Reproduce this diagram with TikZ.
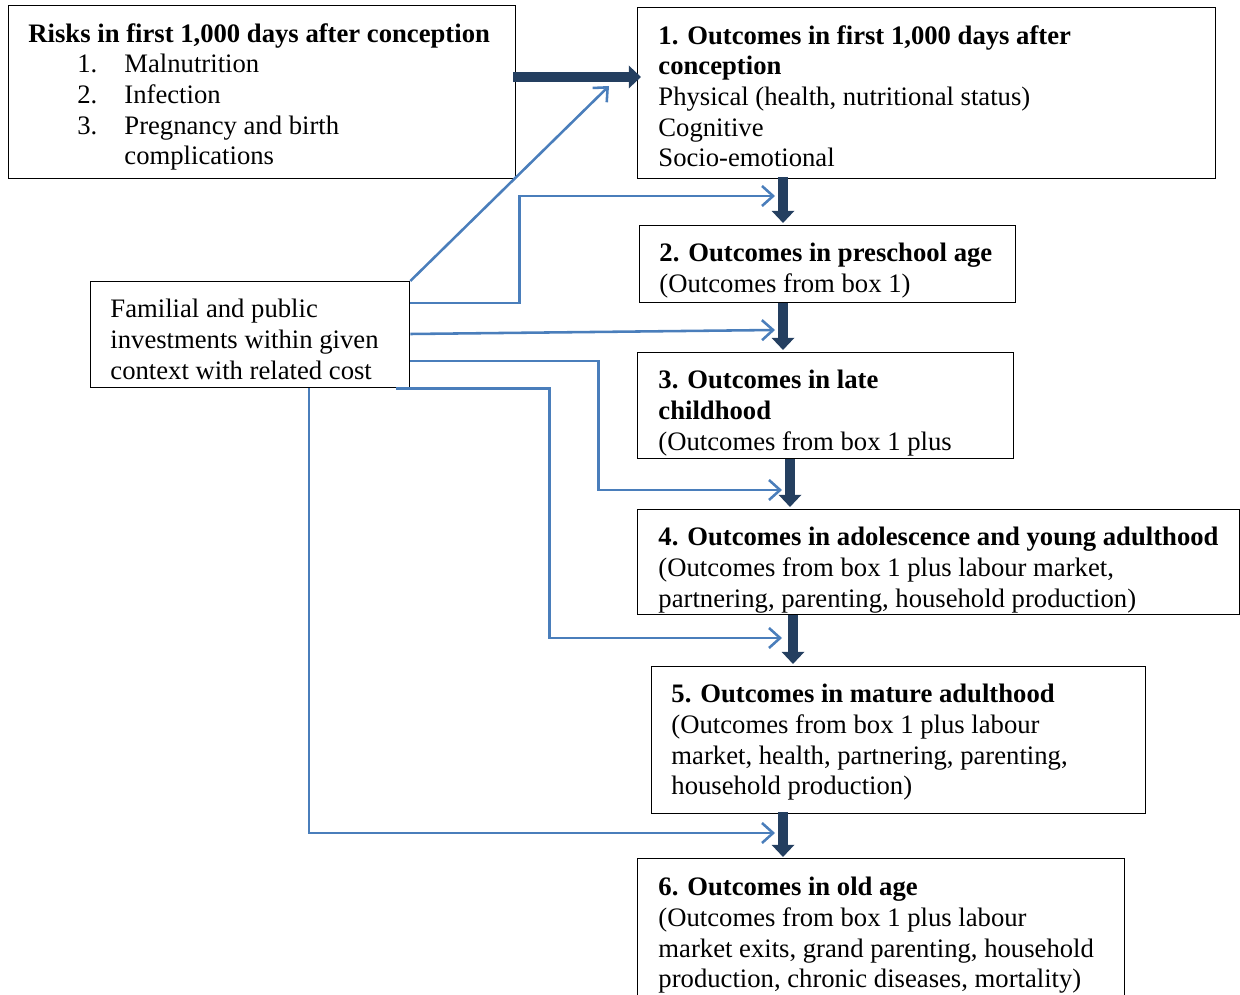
\documentclass[tikz,border=0pt]{standalone}
\usepackage{fontspec}
\setmainfont{Liberation Serif}
\usetikzlibrary{positioning,arrows.meta,calc}

\definecolor{darkarrow}{RGB}{36,63,96}
\definecolor{linkblue}{RGB}{74,126,187}
\newcommand{\pxu}{0.45pt}
\newcommand{\numitem}[1]{\hspace*{22pt}\makebox[21.2pt][l]{#1}}

\begin{document}
\begin{tikzpicture}
  [
    x=0.45pt, y=-0.45pt,
    outbox/.style={draw, line width=0.6pt, inner sep=0pt, anchor=north west},
    boxtext/.style={anchor=north west, align=left, inner sep=0pt, font=\fontsize{12}{13.8}\selectfont,
                    execute at begin node=\rule{0pt}{10pt}},
    main arrow/.style={draw=darkarrow, line width=4.3pt, -{Triangle[width=10pt,length=5.5pt]}},
    link arrow/.style={draw=linkblue, line width=1.15pt, -{Straight Barb[length=5pt,width=9pt]}},
  ]
  \useasboundingbox (0,0) rectangle (1240,995);

  % boxes
  \node[outbox, minimum width=507*\pxu, minimum height=173*\pxu] (risk) at (8,5) {};
  \node[outbox, minimum width=578*\pxu, minimum height=171*\pxu] (b1) at (637,7) {};
  \node[outbox, minimum width=376*\pxu, minimum height=77*\pxu] (b2) at (639,225) {};
  \node[outbox, minimum width=376*\pxu, minimum height=106*\pxu] (b3) at (637,352) {};
  \node[outbox, minimum width=602*\pxu, minimum height=105*\pxu] (b4) at (637,509) {};
  \node[outbox, minimum width=494*\pxu, minimum height=147*\pxu] (b5) at (651,666) {};
  \node[outbox, minimum width=487*\pxu, minimum height=152*\pxu] (b6) at (637,858) {};
  \node[outbox, minimum width=319*\pxu, minimum height=106*\pxu] (fam) at (90,281) {};

  % texts
  \node[boxtext] (trisk) at ($(risk.north west)+(20,18)$)
    {\textbf{Risks in first 1,000 days after conception}\\
     \numitem{1.}Malnutrition\\
     \numitem{2.}Infection\\
     \numitem{3.}Pregnancy and birth\\
     \hspace*{43.2pt}complications};
  \node[boxtext] (t1) at ($(b1.north west)+(21,18)$)
    {\textbf{1. Outcomes in first 1,000 days after}\\
     \textbf{conception}\\
     Physical (health, nutritional status)\\
     Cognitive\\
     Socio-emotional};
  \node[boxtext] (t2) at ($(b2.north west)+(20,18)$)
    {\textbf{2. Outcomes in preschool age}\\
     (Outcomes from box 1)};
  \node[boxtext] (t3) at ($(b3.north west)+(21,18)$)
    {\textbf{3. Outcomes in late}\\
     \textbf{childhood}\\
     (Outcomes from box 1 plus};
  \node[boxtext] (t4) at ($(b4.north west)+(21,18)$)
    {\textbf{4. Outcomes in adolescence and young adulthood}\\
     (Outcomes from box 1 plus labour market,\\
     partnering, parenting, household production)};
  \node[boxtext] (t5) at ($(b5.north west)+(20,18)$)
    {\textbf{5. Outcomes in mature adulthood}\\
     (Outcomes from box 1 plus labour\\
     market, health, partnering, parenting,\\
     household production)};
  \node[boxtext] (t6) at ($(b6.north west)+(21,19)$)
    {\textbf{6. Outcomes in old age}\\
     (Outcomes from box 1 plus labour\\
     market exits, grand parenting, household\\
     production, chronic diseases, mortality)};
  \node[boxtext] (tfam) at ($(fam.north west)+(20,18)$)
    {Familial and public\\
     investments within given\\
     context with related cost};

  % thick arrows
  \draw[main arrow] ($(risk.north east)+(-3,72)$) -- ($(b1.north west)+(4,70)$);
  \draw[main arrow] ($(b1.south west)+(146,-2)$) -- ($(b2.north west)+(144,-2)$);
  \draw[main arrow] ($(b2.south west)+(144,0)$) -- ($(b3.north west)+(146,-2)$);
  \draw[main arrow] ($(b3.south west)+(153,0)$) -- ($(b4.north west)+(153,-2)$);
  \draw[main arrow] ($(b4.south west)+(156,0)$) -- ($(b5.north west)+(142,-2)$);
  \draw[main arrow] ($(b5.south west)+(132,-2)$) -- ($(b6.north west)+(146,-1)$);

  % investment links
  \coordinate (e1) at (609,86);
  \coordinate (e2) at (775,196);
  \coordinate (e3) at (775,330);
  \coordinate (e4) at (782,490);
  \coordinate (e5) at (782,638);
  \coordinate (e6) at (775,833);
  \draw[link arrow] (fam.north east) -- (e1);
  \draw[link arrow] ($(fam.north east)+(0,22)$) -- ++(109,0) |- (e2);
  \draw[link arrow] ($(fam.north east)+(0,53)$) -- (e3);
  \draw[link arrow] ($(fam.north east)+(0,80)$) -- ++(188,0) |- (e4);
  \draw[link arrow] ($(fam.south east)+(-14,0)$) -- ++(153,0) |- (e5);
  \draw[link arrow] ($(fam.south west)+(219,0)$) |- (e6);

\end{tikzpicture}
\end{document}
